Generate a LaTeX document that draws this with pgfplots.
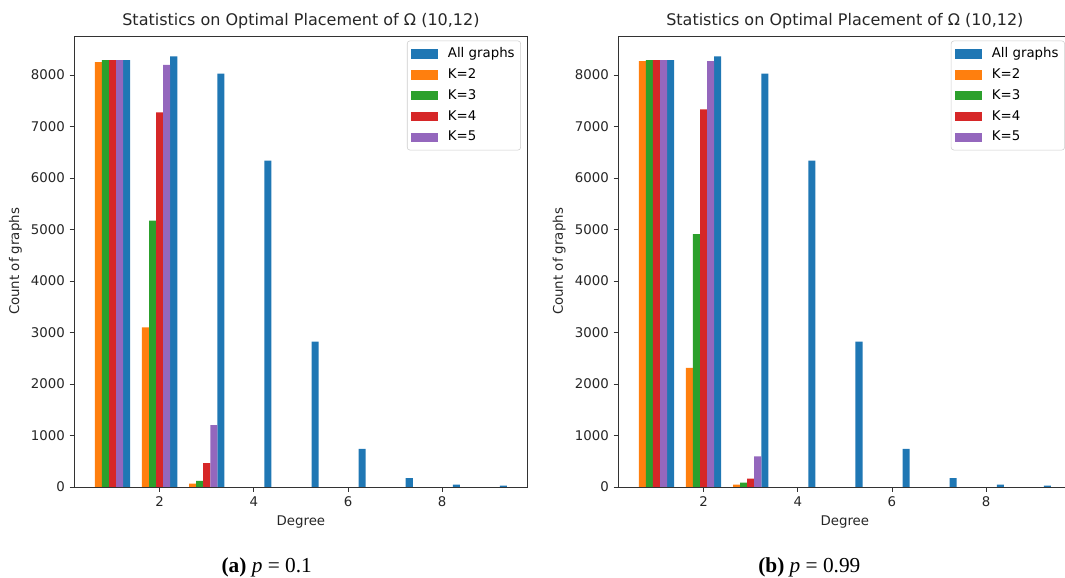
\documentclass[border=0pt]{standalone}
\usepackage{fontspec}
\setmainfont{DejaVu Sans}
\newfontfamily\capfont{Liberation Serif}
\usepackage{pgfplots}
\pgfplotsset{compat=1.18}
\definecolor{c0}{HTML}{1F77B4}
\definecolor{c1}{HTML}{FF7F0E}
\definecolor{c2}{HTML}{2CA02C}
\definecolor{c3}{HTML}{D62728}
\definecolor{c4}{HTML}{9467BD}
\pgfplotsset{
  mystyle/.style={
    scale only axis, width=340pt, height=338.25pt,
    anchor=south west,
    xmin=0.1875, xmax=9.8125, ymin=0, ymax=8760,
    xtick={2,4,6,8}, ytick={0,1000,...,8000},
    tick align=outside, major tick length=3.5pt, tick pos=left,
    /pgf/number format/assume math mode=true,
    /pgf/number format/1000 sep={},
    tick label style={font=\fontsize{10}{12}\selectfont, color=black!85},
    label style={font=\fontsize{10}{12}\selectfont, color=black!85},
    title style={font=\fontsize{12}{14}\selectfont, color=black!85, yshift=-4pt},
    title={Statistics on Optimal Placement of Ω (10,12)},
    xlabel={Degree}, ylabel={Count of graphs},
    axis line style={line width=0.6pt, black!80},
    tick style={line width=0.6pt, black!80},
    ybar, bar width=0.15,
    legend style={at={(1,1)}, anchor=north east, xshift=-5pt, yshift=-3.5pt,
      draw=black!20, rounded corners=2pt, fill=white,
      font=\fontsize{10}{12}\selectfont, row sep=3.2pt,
      inner xsep=3pt, inner ysep=3.5pt,
      nodes={inner sep=1.5pt, text depth=2pt},
      /tikz/every odd column/.append style={column sep=6pt}},
    legend cell align=left,
    legend image code/.code={\fill[##1, sharp corners] (0pt,-3.5pt) rectangle (20pt,3.5pt);},
  }
}
\begin{document}
\begin{tikzpicture}
\useasboundingbox (0,0) rectangle (798.75pt,433.5pt);
\clip (0,0) rectangle (798.75pt,433.5pt);
% Left panel: p = 0.1
\begin{axis}[mystyle, at={(55.7pt,68.25pt)}]
\addplot[fill=c0, draw=none, bar shift=0.3] coordinates {(1,8290) (2,8365) (3,8030) (4,6340) (5,2825) (6,742) (7,174) (8,45) (9,25)};
\addplot[fill=c1, draw=none, bar shift=-0.3] coordinates {(1,8255) (2,3100) (3,65)};
\addplot[fill=c2, draw=none, bar shift=-0.15] coordinates {(1,8290) (2,5175) (3,120)};
\addplot[fill=c3, draw=none, bar shift=0] coordinates {(1,8290) (2,7277) (3,462)};
\addplot[fill=c4, draw=none, bar shift=0.15] coordinates {(1,8290) (2,8200) (3,1200)};
\legend{All graphs, K=2, K=3, K=4, K=5}
\end{axis}
% Right panel: p = 0.99
\begin{axis}[mystyle, at={(463.65pt,68.25pt)}]
\addplot[fill=c0, draw=none, bar shift=0.3] coordinates {(1,8290) (2,8365) (3,8030) (4,6340) (5,2825) (6,742) (7,174) (8,45) (9,25)};
\addplot[fill=c1, draw=none, bar shift=-0.3] coordinates {(1,8272) (2,2316) (3,45)};
\addplot[fill=c2, draw=none, bar shift=-0.15] coordinates {(1,8290) (2,4910) (3,84)};
\addplot[fill=c3, draw=none, bar shift=0] coordinates {(1,8290) (2,7335) (3,161)};
\addplot[fill=c4, draw=none, bar shift=0.15] coordinates {(1,8290) (2,8272) (3,593)};
\legend{All graphs, K=2, K=3, K=4, K=5}
\end{axis}
\node[font=\capfont\fontsize{16}{19}\selectfont] at (200pt,8.3pt) {\textbf{(a)} \textit{p} = 0.1};
\node[font=\capfont\fontsize{16}{19}\selectfont] at (607pt,8.3pt) {\textbf{(b)} \textit{p} = 0.99};
\end{tikzpicture}
\end{document}
